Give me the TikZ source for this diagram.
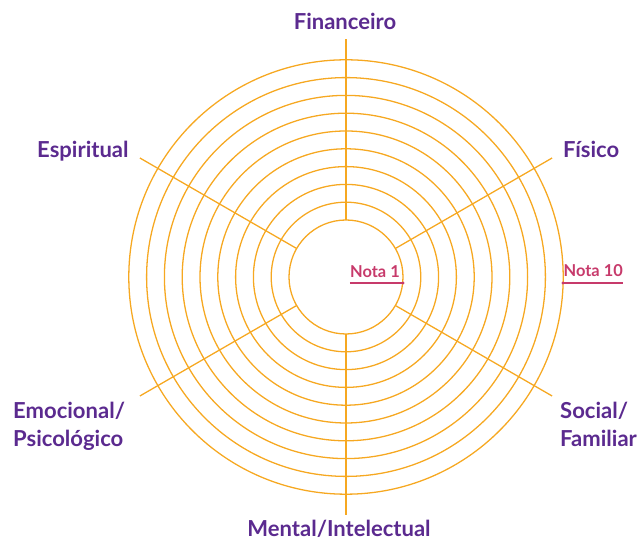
\documentclass[tikz,border=0pt]{standalone}
\usepackage{fontspec}
\setmainfont{Lato}
\usetikzlibrary{calc}

\definecolor{roda}{HTML}{F6A821}
\definecolor{roxo}{HTML}{5B2A8F}
\definecolor{rosa}{HTML}{C73A6B}

\begin{document}
\begin{tikzpicture} [x=0.03cm, y=0.03cm]
    \tikzstyle{every node}=[inner sep=0pt, text=roxo,
				% the text:
				font=\fontsize{18.8}{24}\selectfont\bfseries
					]
    \tikzstyle{anel} = [draw=roda, line width=1.1pt]
    \tikzstyle{nota} = [text=rosa, font=\fontsize{14}{16}\selectfont\bfseries]
    \tikzstyle{marca} = [draw=rosa, line width=0.9pt]
    \useasboundingbox (0,0) rectangle (641,540);
    \coordinate (centro) at (346,263);
    % the rings and the spokes
    \foreach \r in {0,...,9}
        \draw[anel] (centro) circle ({57+\r*17.8});
    \foreach \a in {30,90,150,210,270,330}
        \draw[anel] ($(centro)+(\a:57)$) -- ($(centro)+(\a:238)$);
    % the areas
    \node[anchor=base] (financeiro) at (345,510) {Financeiro};
    \node[anchor=base west] (espiritual) at (37,382) {Espiritual};
    \node[anchor=base west] (fisico) at (563,382) {Físico};
    \node[anchor=north west, align=left] (emocional) at (13,138) {Emocional/\\Psicológico};
    \node[anchor=north west, align=left] (social) at (560,138) {Social/\\Familiar};
    \node[anchor=base] (mental) at (339,3) {Mental/Intelectual};
    % the marks
    \coordinate (n1) at (403,257);
    \coordinate (n10) at (563,257);
    \node[nota, anchor=base east] (nota1) at (400,262) {Nota 1};
    \node[nota, anchor=base east] (nota10) at (623,263) {Nota 10};
    \draw[marca] (nota1.west |- n1) -- (n1);
    \draw[marca] (n10) -- (nota10.east |- n10);
    \fill[rosa] (n1) circle (1.6);
    \fill[rosa] (n10) circle (1.6);
\end{tikzpicture}
\end{document}
